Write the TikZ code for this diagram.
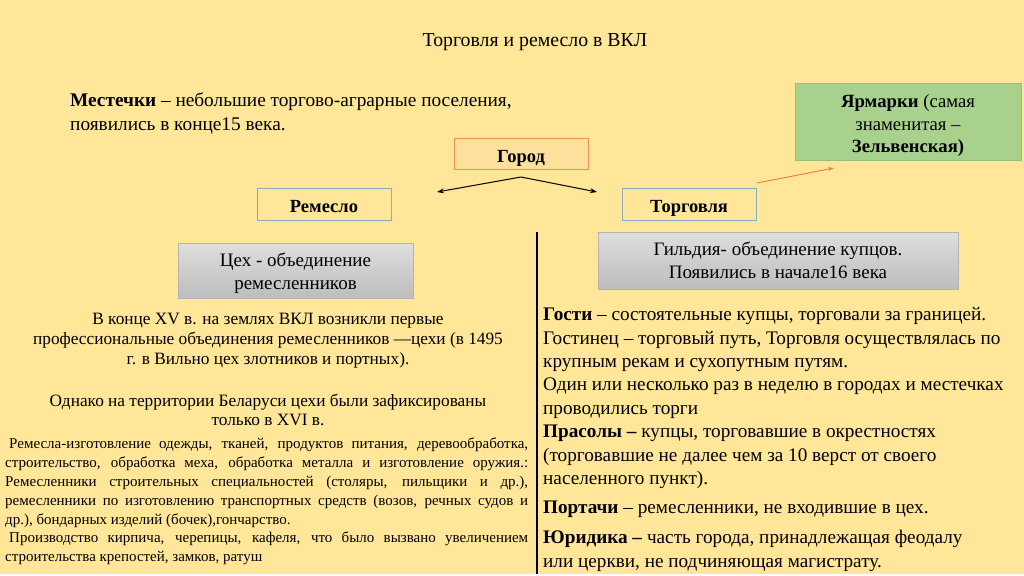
\documentclass[tikz,border=0pt]{standalone}
\usepackage{fontspec}
\setmainfont{Liberation Serif}[Ligatures=TeX]
\newfontfamily\tnr{Liberation Serif}
\usetikzlibrary{arrows.meta}
\definecolor{bgc}{HTML}{FFE699}
\definecolor{orangeb}{HTML}{ED7D31}
\definecolor{cityfill}{HTML}{FEE09D}
\definecolor{blueb}{HTML}{8DA9C4}
\definecolor{greenf}{HTML}{A9D18E}
\definecolor{greenb}{HTML}{97BE7E}
\definecolor{graytop}{HTML}{DEDEDE}
\definecolor{graybot}{HTML}{BDBDBD}
\definecolor{grayb}{HTML}{B4B4B4}
\begin{document}
\begin{tikzpicture}[x=1pt,y=-1pt,
  ln/.style={anchor=base west, inner sep=0pt},
  lnc/.style={anchor=base, inner sep=0pt},
  titlefont/.style={font=\tnr\fontsize{19.8}{22}\selectfont},
  mainfont/.style={font=\tnr\fontsize{19.3}{22}\selectfont},
  rightfont/.style={font=\tnr\fontsize{19.2}{23}\selectfont},
  midfont/.style={font=\tnr\fontsize{17.3}{20}\selectfont},
  smallfont/.style={font=\tnr\fontsize{15}{18}\selectfont},
  labelbox/.style={draw=blueb, line width=1pt, fill=bgc, minimum width=134pt, minimum height=32pt, inner sep=0pt, text height=17pt, text depth=0pt, font=\tnr\fontsize{18.5}{20}\selectfont\bfseries},
  citybox/.style={labelbox, draw=orangeb!85, fill=cityfill, minimum height=31pt},
  graybox/.style={draw=grayb, line width=0.5pt, top color=graytop, bottom color=graybot, inner sep=0pt, align=center, font=\tnr\fontsize{19}{22.5}\selectfont},
  fairbox/.style={draw=greenb, line width=0.8pt, fill=greenf, inner sep=0pt, align=center, font=\tnr\fontsize{18.7}{22.5}\selectfont},
  arr/.style={line width=1pt, -{Stealth[length=7pt,width=5pt]}},
  oarr/.style={draw=orangeb, line width=0.9pt, -{Stealth[length=6pt,width=4pt]}}
]
\path[fill=bgc] (0,0) rectangle (1024,574);

% title
\node[lnc, titlefont] (title) at (535,47) {Торговля и ремесло в ВКЛ};

% mestechki
\node[ln, mainfont] (m1) at (70,106) {\textbf{Местечки} – небольшие торгово-аграрные поселения,};
\node[ln, mainfont] (m2) at (70,130) {появились в конце15 века.};

% boxes
\node[fairbox, minimum width=226pt, minimum height=77pt] (fair) at (908,121.5)
  {\rule{0pt}{21pt}\textbf{Ярмарки} (самая\\знаменитая –\\\textbf{Зельвенская)}};
\node[citybox] (city) at (521,153.5) {Город};
\node[labelbox] (craft) at (324,204) {Ремесло};
\node[labelbox] (trade) at (689,204) {Торговля};

\node[graybox, minimum width=235pt, minimum height=55pt] (guild) at (295.5,270.5) {\rule{0pt}{19pt}Цех - объединение\\ремесленников};
\node[graybox, minimum width=360pt, minimum height=57pt] (merch) at (778,260.5) {Гильдия- объединение купцов.\\Появились в начале16 века};

% arrows
\coordinate (peak) at (521,177);
\coordinate (ltip) at (437,192);
\coordinate (rtip) at (597,192);
\draw[arr] (peak) -- (ltip);
\draw[arr] (peak) -- (rtip);
\coordinate (ostart) at (757,183);
\coordinate (oend) at (834,168);
\draw[oarr] (ostart) -- (oend);

% divider
\coordinate (dtop) at (537,232);
\coordinate (dbot) at (537,574);
\draw[line width=2.5pt] (dtop) -- (dbot);

% left block 1
\node[lnc, midfont] (a1) at (268,324) {В конце XV в. на землях ВКЛ возникли первые};
\node[lnc, midfont] (a2) at (268,344) {профессиональные объединения ремесленников —цехи (в 1495};
\node[lnc, midfont] (a3) at (268,364) {г. в Вильно цех злотников и портных).};
\node[lnc, midfont] (a4) at (268,406) {Однако на территории Беларуси цехи были зафиксированы};
\node[lnc, midfont] (a5) at (268,425) {только в XVI в.};

% left block 2
\node[ln, smallfont] (b1) at (9,448) {\makebox[519pt][s]{Ремесла-изготовление одежды, тканей, продуктов питания, деревообработка,}};
\node[ln, smallfont] (b2) at (5,467) {\makebox[523pt][s]{строительство, обработка меха, обработка металла и изготовление оружия.:}};
\node[ln, smallfont] (b3) at (5,486) {\makebox[523pt][s]{Ремесленники строительных специальностей (столяры, пильщики и др.),}};
\node[ln, smallfont] (b4) at (5,505) {\makebox[523pt][s]{ремесленники по изготовлению транспортных средств (возов, речных судов и}};
\node[ln, smallfont] (b5) at (5,524) {др.), бондарных изделий (бочек),гончарство.};
\node[ln, smallfont] (b6) at (9,542) {\makebox[519pt][s]{Производство кирпича, черепицы, кафеля, что было вызвано увеличением}};
\node[ln, smallfont] (b7) at (5,561) {строительства крепостей, замков, ратуш};

% right column
\node[ln, rightfont] (r1) at (543,320) {\textbf{Гости} – состоятельные купцы, торговали за границей.};
\node[ln, rightfont] (r2) at (543,344) {Гостинец – торговый путь, Торговля осуществлялась по};
\node[ln, rightfont] (r3) at (543,367) {крупным рекам и сухопутным путям.};
\node[ln, rightfont] (r4) at (543,390) {Один или несколько раз в неделю в городах и местечках};
\node[ln, rightfont] (r5) at (543,414) {проводились торги};
\node[ln, rightfont] (r6) at (543,437) {\textbf{Прасолы –} купцы, торговавшие в окрестностях};
\node[ln, rightfont] (r7) at (543,461) {(торговавшие не далее чем за 10 верст от своего};
\node[ln, rightfont] (r8) at (543,484) {населенного пункт).};
\node[ln, rightfont] (r9) at (543,513) {\textbf{Портачи} – ремесленники, не входившие в цех.};
\node[ln, rightfont] (r10) at (543,543) {\textbf{Юридика –} часть города, принадлежащая феодалу};
\node[ln, rightfont] (r11) at (543,567) {или церкви, не подчиняющая магистрату.};
\end{tikzpicture}
\end{document}
